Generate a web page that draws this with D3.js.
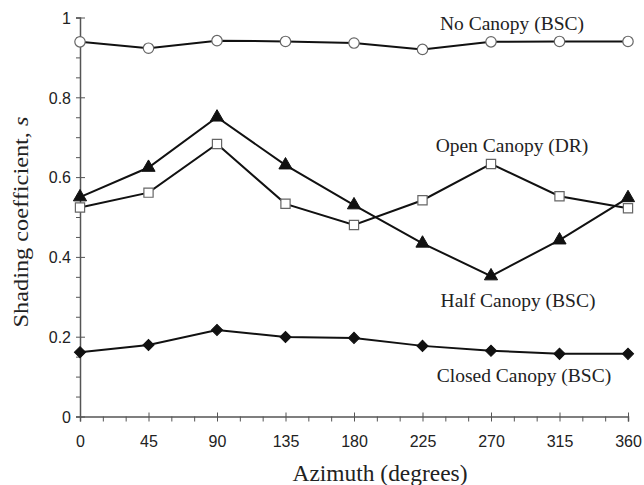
<!DOCTYPE html>
<html><head><meta charset="utf-8">
<script src="https://cdn.jsdelivr.net/npm/d3@7"></script>
<style>body{margin:0;background:#fff}svg{display:block}</style>
</head><body>
<svg id="c" width="644" height="485"></svg>
<script>
const azimuth = [0,45,90,135,180,225,270,315,360];
const noCanopy = [0.939,0.923,0.942,0.940,0.936,0.920,0.939,0.940,0.940];
const halfCanopy = [0.550,0.624,0.750,0.630,0.530,0.434,0.352,0.442,0.548];
const openCanopy = [0.524,0.561,0.683,0.533,0.480,0.542,0.633,0.552,0.522];
const closedCanopy = [0.161,0.179,0.217,0.199,0.197,0.177,0.165,0.157,0.157];
const yTicks = [0,0.2,0.4,0.6,0.8,1];
const seriesLabels = ["No Canopy (BSC)","Open Canopy (DR)","Half Canopy (BSC)","Closed Canopy (BSC)"];

const svg = d3.select("#c");
const x = d3.scaleLinear().domain([0,360]).range([80,628]);
const y = d3.scaleLinear().domain([0,1]).range([416.5,17.5]);
const axisCol = "#555";
const sans = "'Liberation Sans',Arial,sans-serif";
const serif = "'Liberation Serif','Times New Roman',serif";

// axes
const gx = svg.append("g").attr("transform","translate(0,416.5)");
gx.call(d3.axisBottom(x).tickValues(d3.range(0,361,15)).tickSize(5).tickFormat(""));
gx.selectAll(".tick line").attr("stroke",axisCol);
gx.selectAll(".tick").filter(d=>d%45===0).select("line").attr("y1",-4).attr("y2",5);
gx.selectAll(".tick").filter(d=>d%45===0).append("text")
  .attr("y",30).attr("fill","#222").attr("text-anchor","middle")
  .style("font-family",sans).style("font-size","16px")
  .text(d=>d);
gx.select(".domain").attr("stroke",axisCol).attr("stroke-width",1.5);

const gy = svg.append("g").attr("transform","translate(80,0)");
gy.call(d3.axisLeft(y).tickValues(d3.range(0,1.0001,0.05)).tickSize(4).tickFormat(""));
gy.selectAll(".tick line").attr("stroke",axisCol);
const isMajor = d=>yTicks.some(t=>Math.abs(t-d)<1e-6);
gy.selectAll(".tick").filter(isMajor).select("line").attr("x1",5).attr("x2",-4);
gy.selectAll(".tick").filter(isMajor).append("text")
  .attr("x",-9).attr("dy","0.36em").attr("fill","#222").attr("text-anchor","end")
  .style("font-family",sans).style("font-size","16px")
  .text(d=>d3.format("~g")(+d.toFixed(2)));
gy.select(".domain").attr("stroke",axisCol).attr("stroke-width",1.5);

// lines
const line = d3.line().x((d,i)=>x(azimuth[i])).y(d=>y(d));
const allSeries = [
  {v:noCanopy, m:"circle"},
  {v:halfCanopy, m:"triangle"},
  {v:openCanopy, m:"square"},
  {v:closedCanopy, m:"diamond"}
];
allSeries.forEach(s=>{
  svg.append("path").datum(s.v).attr("d",line).attr("fill","none")
    .attr("stroke","#111").attr("stroke-width",2);
});
const sym = {
  circle: d3.symbol(d3.symbolCircle, 85),
  triangle: d3.symbol(d3.symbolTriangle, 75),
  square: d3.symbol(d3.symbolSquare, 85),
  diamond: d3.symbol(d3.symbolSquare, 62)
};
allSeries.forEach(s=>{
  const open = s.m==="circle"||s.m==="square";
  const rot = s.m==="diamond" ? " rotate(45)" : "";
  svg.append("g").selectAll("path").data(s.v).join("path")
    .attr("transform",(d,i)=>`translate(${x(azimuth[i])},${y(d)})${rot}`)
    .attr("d",sym[s.m]())
    .attr("fill",open?"#fff":"#111")
    .attr("stroke",open?"#666":"#111")
    .attr("stroke-width",open?1.2:1);
});

// series labels
const labelPos = [[512,30],[512,152],[518,307],[524,382]];
seriesLabels.forEach((t,i)=>{
  svg.append("text").attr("x",labelPos[i][0]).attr("y",labelPos[i][1])
    .attr("text-anchor","middle").attr("fill","#222")
    .style("font-family",serif).style("font-size","19.5px")
    .text(t);
});

// axis titles
svg.append("text").attr("x",380).attr("y",481).attr("text-anchor","middle").attr("fill","#222")
  .style("font-family",serif).style("font-size","23px")
  .attr("textLength",175).attr("lengthAdjust","spacingAndGlyphs")
  .text("Azimuth (degrees)");
const yt = svg.append("text").attr("transform","translate(28,222) rotate(-90)")
  .attr("text-anchor","middle").attr("fill","#222")
  .attr("textLength",211).attr("lengthAdjust","spacingAndGlyphs")
  .style("font-family",serif).style("font-size","22px");
yt.append("tspan").text("Shading coefficient, ");
yt.append("tspan").style("font-style","italic").text("s");
</script>
</body></html>
